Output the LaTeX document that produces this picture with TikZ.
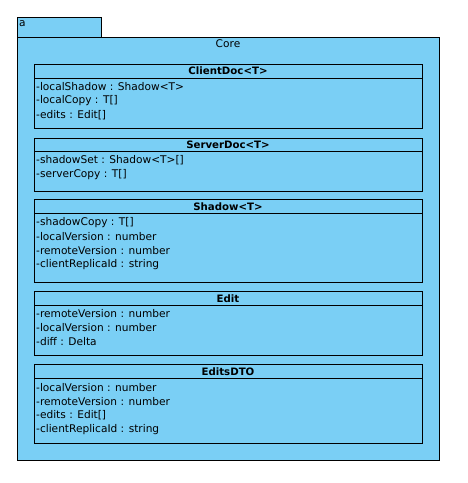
\documentclass[tikz,border=0pt]{standalone}
\usepackage{fontspec}
\setmainfont{DejaVu Sans}
\definecolor{pkgblue}{RGB}{122,207,245}
\begin{document}
\begin{tikzpicture}[x=1pt,y=-1pt,
  box/.style={draw=black,fill=pkgblue,line width=1pt,inner sep=0pt,anchor=north west},
  attr/.style={anchor=west,inner sep=0pt,font=\fontsize{10.6}{12}\selectfont},
  title/.style={inner sep=0pt,font=\bfseries\fontsize{10.2}{12}\selectfont}]
\useasboundingbox (0,0) rectangle (467,483);
% package
\node[box,minimum width=84,minimum height=20] (tab) at (17,17) {};
\node[box,minimum width=422,minimum height=423] (pkg) at (17,37) {};
\node[attr] (tabl) at (19,24) {a};
\node[inner sep=0pt,font=\fontsize{10.6}{12}\selectfont] (core) at (228,44) {Core};
% ClientDoc
\node[box,minimum width=388,minimum height=64] (client) at (34,64) {};
\draw[line width=1pt] (34,78) -- (422,78);
\node[title] (clientt) at (228,71) {ClientDoc<T>};
\node[attr] (c1) at (36,87) {-localShadow : Shadow<T>};
\node[attr] (c2) at (36,101) {-localCopy : T[]};
\node[attr] (c3) at (36,115) {-edits : Edit[]};
% ServerDoc
\node[box,minimum width=388,minimum height=53] (server) at (34,137.5) {};
\draw[line width=1pt] (34,151.3) -- (422,151.3);
\node[title] (servert) at (228,144.5) {ServerDoc<T>};
\node[attr] (s1) at (36,160) {-shadowSet : Shadow<T>[]};
\node[attr] (s2) at (36,174.5) {-serverCopy : T[]};
% Shadow
\node[box,minimum width=388,minimum height=83] (shadow) at (34,199.3) {};
\draw[line width=1pt] (34,213.2) -- (422,213.2);
\node[title] (shadowt) at (228,206.3) {Shadow<T>};
\node[attr] (h1) at (36,222.5) {-shadowCopy : T[]};
\node[attr] (h2) at (36,236.5) {-localVersion : number};
\node[attr] (h3) at (36,250.5) {-remoteVersion : number};
\node[attr] (h4) at (36,264.5) {-clientReplicaId : string};
% Edit
\node[box,minimum width=388,minimum height=64] (edit) at (34,291.3) {};
\draw[line width=1pt] (34,305.2) -- (422,305.2);
\node[title] (editt) at (228,298.3) {Edit};
\node[attr] (e1) at (36,314) {-remoteVersion : number};
\node[attr] (e2) at (36,328) {-localVersion : number};
\node[attr] (e3) at (36,342) {-diff : Delta};
% EditsDTO
\node[box,minimum width=388,minimum height=79] (dto) at (34,364.3) {};
\draw[line width=1pt] (34,378.3) -- (422,378.3);
\node[title] (dtot) at (228,371.3) {EditsDTO};
\node[attr] (d1) at (36,387.3) {-localVersion : number};
\node[attr] (d2) at (36,401.3) {-remoteVersion : number};
\node[attr] (d3) at (36,415.3) {-edits : Edit[]};
\node[attr] (d4) at (36,429.3) {-clientReplicaId : string};
\end{tikzpicture}
\end{document}
